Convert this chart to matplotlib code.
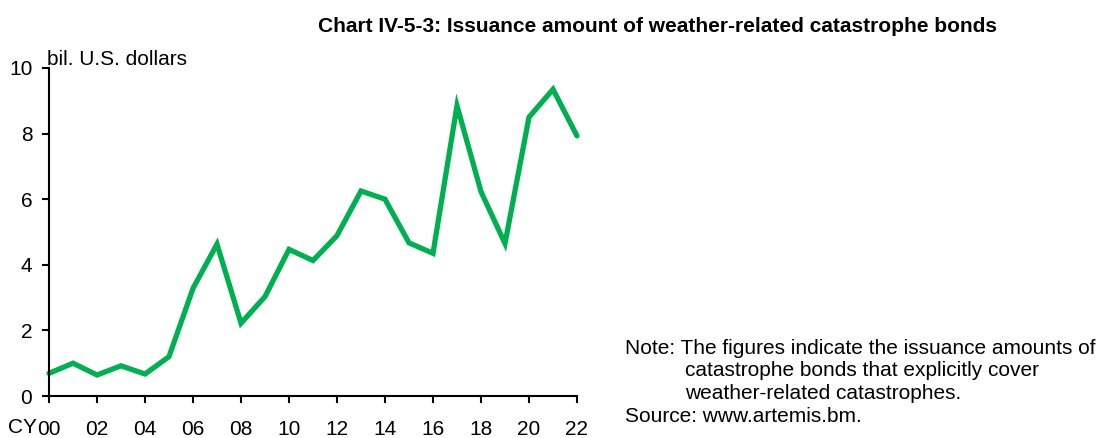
import matplotlib
matplotlib.use("Agg")
import matplotlib.pyplot as plt

plt.rcParams['font.family'] = ['Liberation Sans', 'DejaVu Sans']

years = list(range(2000, 2023))
issuance = [0.69, 1.0, 0.64, 0.92, 0.67, 1.2, 3.28, 4.63, 2.22, 3.03, 4.47, 4.13,
            4.89, 6.25, 6.0, 4.67, 4.35, 8.85, 6.23, 4.65, 8.5, 9.35, 7.93]
xtick_years = list(range(2000, 2023, 2))
xtick_labels = ["00", "02", "04", "06", "08", "10", "12", "14", "16", "18", "20", "22"]
yticks = [0, 2, 4, 6, 8, 10]

W, H = 1108, 438
fig = plt.figure(figsize=(W/100, H/100), dpi=100)
ax = fig.add_axes([49/W, 1-396/H, (577-49)/W, (396-68)/H])
ax.plot(years, issuance, color='#00B050', lw=3.8, solid_joinstyle='miter',
        solid_capstyle='round', clip_on=False)
ax.set_xlim(2000, 2022)
ax.set_ylim(0, 10)
ax.set_xticks(xtick_years)
ax.set_xticklabels(xtick_labels)
ax.set_yticks(yticks)
for s in ['top', 'right']:
    ax.spines[s].set_visible(False)
for s in ['left', 'bottom']:
    ax.spines[s].set_linewidth(1.5)
ax.tick_params(axis='both', direction='out', length=5, width=1.5, labelsize=15)
ax.tick_params(axis='y', pad=7)
ax.tick_params(axis='x', pad=12)
ax.patch.set_alpha(0)

fs = 15
fig.text(47/W, 1-65/H, "bil. U.S. dollars", fontsize=fs, ha='left', va='baseline')
fig.text(8/W, 1-433/H, "CY", fontsize=fs, ha='left', va='baseline')
fig.text(657/W, 1-32/H, "Chart IV-5-3: Issuance amount of weather-related catastrophe bonds",
         fontsize=fs, fontweight='bold', ha='center', va='baseline')

fig.text(625/W, 1-354/H, "Note: The figures indicate the issuance amounts of", fontsize=fs, ha='left', va='baseline')
fig.text(685/W, 1-376/H, "catastrophe bonds that explicitly cover", fontsize=fs, ha='left', va='baseline')
fig.text(685/W, 1-399/H, "weather-related catastrophes.", fontsize=fs, ha='left', va='baseline')
fig.text(625/W, 1-422/H, "Source: www.artemis.bm.", fontsize=fs, ha='left', va='baseline')

fig.savefig("out.png", dpi=100)
